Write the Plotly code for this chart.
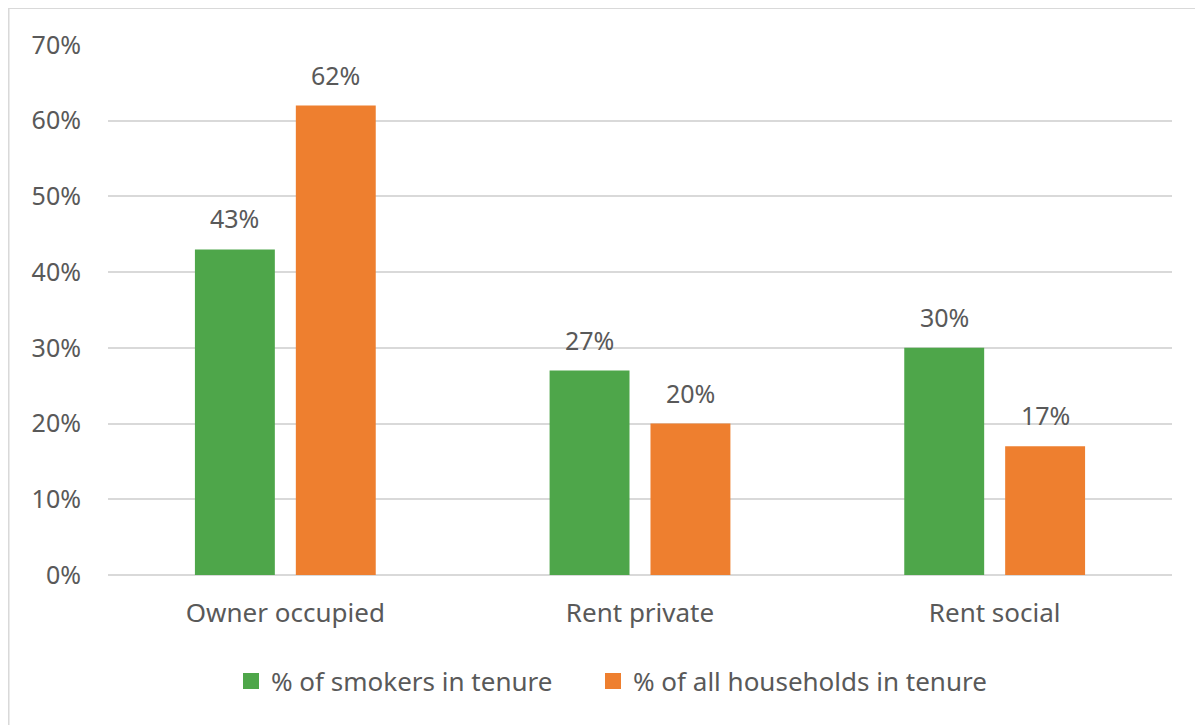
import plotly.graph_objects as go

categories = ["Owner occupied", "Rent private", "Rent social"]
smokers = [0.43, 0.27, 0.30]
households = [0.62, 0.20, 0.17]
series_names = ["% of smokers in tenure", "% of all households in tenure"]
tick_vals = [0, 0.1, 0.2, 0.3, 0.4, 0.5, 0.6, 0.7]
tick_text = ["0%", "10%", "20%", "30%", "40%", "50%", "60%", "70%"]

GREEN = "#4ea64a"
ORANGE = "#ee7f2f"
TXT = "#595959"
FONT = "Noto Sans"

fig = go.Figure()
for vals, name, color in ((smokers, series_names[0], GREEN), (households, series_names[1], ORANGE)):
    fig.add_trace(go.Bar(x=categories, y=vals, name=name, showlegend=False,
                         marker=dict(color=color, line=dict(width=0))))
for name, color, lg in ((series_names[0], GREEN, "legend"), (series_names[1], ORANGE, "legend2")):
    fig.add_trace(go.Scatter(x=[categories[0]], y=[None], name=name, mode="markers",
                             marker=dict(symbol="square", size=16, color=color),
                             hoverinfo="skip", legend=lg))

annotations = []
for vals, shift in ((smokers, -50.5), (households, 50.5)):
    for c, v in zip(categories, vals):
        annotations.append(dict(x=c, y=v, text=f"{round(v*100)}%", showarrow=False,
                                xshift=shift, yshift=31, font=dict(size=25, color=TXT, family=FONT)))

legend_common = dict(orientation="h", xanchor="left", y=-0.2, yanchor="middle",
                     font=dict(size=26, color=TXT), itemwidth=30, bgcolor="rgba(0,0,0,0)")

fig.update_layout(
    width=1203, height=725,
    margin=dict(l=100, r=39, t=37, b=158),
    paper_bgcolor="white", plot_bgcolor="white",
    barmode="group", bargap=0.431, bargroupgap=0.208,
    font=dict(family=FONT, size=26, color=TXT),
    xaxis=dict(showgrid=False, showline=False, ticks="", tickfont=dict(size=26, color=TXT),
               ticklabelstandoff=20),
    yaxis=dict(range=[0, 0.7], tickvals=tick_vals, ticktext=tick_text,
               showgrid=True, gridcolor="#d9d9d9", gridwidth=1.5,
               zeroline=True, zerolinecolor="#d9d9d9", zerolinewidth=2,
               showline=False, ticks="", tickfont=dict(size=25, color=TXT),
               ticklabelstandoff=26),
    legend=dict(x=(231 - 108) / 1064, **legend_common),
    legend2=dict(x=(593 - 108) / 1064, **legend_common),
    annotations=annotations,
    showlegend=True,
    shapes=[dict(type="rect", xref="paper", yref="paper",
                 x0=-0.0935, x1=1.2, y0=-0.4, y1=1.0698,
                 line=dict(color="#d9d9d9", width=2), fillcolor="rgba(0,0,0,0)", layer="below")],
)

fig.write_html("out.html")
